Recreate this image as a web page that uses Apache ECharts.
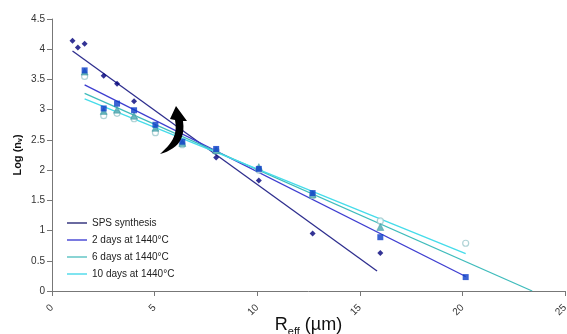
<!DOCTYPE html>
<html><head><meta charset="utf-8">
<script src="https://cdn.jsdelivr.net/npm/echarts@6/dist/echarts.min.js"></script>
<style>html,body{margin:0;padding:0;background:#fff}#c{width:567px;height:334px}</style>
</head><body><div id="c"></div>
<script>
// Reff values (µm)
const xs = [1.0, 1.26, 1.59, 2.52, 3.17, 4.0, 5.04, 6.35, 8.0, 10.08, 12.7, 16.0, 20.16];
// Log(nv) values
const sps   = [4.14, 4.03, 4.09, 3.56, 3.43, 3.14, null, null, 2.21, 1.83, 0.95, 0.63, null];
const d2    = [null, null, 3.65, 3.02, 3.10, 2.99, 2.75, 2.47, 2.35, 2.02, 1.62, 0.89, 0.23];
const d6    = [null, null, 3.63, 2.98, 3.00, 2.90, 2.70, 2.45, 2.33, 2.05, 1.60, 1.06, null];
const d10   = [null, null, 3.55, 2.90, 2.94, 2.85, 2.62, 2.42, 2.32, 2.00, 1.58, 1.16, 0.79];
// trend line end points [x, y]
const spsTrendX = [1.0, 15.84],  spsTrendY = [3.97, 0.33];
const d2TrendX  = [1.59, 20.16], d2TrendY  = [3.41, 0.24];
const d6TrendX  = [1.59, 23.4],  d6TrendY  = [3.27, 0.0];
const d10TrendX = [1.59, 20.16], d10TrendY = [3.18, 0.62];
const names = ['SPS synthesis', '2 days at 1440°C', '6 days at 1440°C', '10 days at 1440°C'];

function pts(v){ const o=[]; v.forEach((y,i)=>{ if(y!==null) o.push([xs[i],y]); }); return o; }
function line(X,Y){ return X.map((x,i)=>[x,Y[i]]); }

const lineCols = ['#2e2e8e', '#3d3dd0', '#3fbcbc', '#45dcea'];
const legendCols = ['#6a6aa0', '#7a7ae0', '#8ad4d4', '#7fe4f0'];
const markCols = ['#00007a', '#0a3cc8', '#4aa8b0', '#9cc8cc'];

// curved arrow annotation outline (cubic bezier sampled into polygon)
function bez(p0,p1,p2,p3,n){ const o=[]; for(let i=0;i<=n;i++){const t=i/n,u=1-t;
  o.push([u*u*u*p0[0]+3*u*u*t*p1[0]+3*u*t*t*p2[0]+t*t*t*p3[0], u*u*u*p0[1]+3*u*u*t*p1[1]+3*u*t*t*p2[1]+t*t*t*p3[1]]);} return o; }
const arrowPts = [].concat(
  bez([160,154],[174,150],[186,142],[183,121],12),
  [[187,121],[176,106],[170,119],[175,120]],
  bez([175,120],[178,136],[171,144],[160,154],12)
);

const chart = echarts.init(document.getElementById('c'));
const F = 'Liberation Sans, Arial, sans-serif';
chart.setOption({
  animation:false,
  grid:{left:52,right:2,top:19,bottom:43,containLabel:false,outerBoundsMode:'none'},
  legend:{
    orient:'vertical', left:62, top:213, itemGap:7, itemWidth:20, itemHeight:2, icon:'rect',
    data:names.map((n,i)=>({name:n,itemStyle:{color:legendCols[i]}})),
    textStyle:{fontSize:10,fontFamily:F,color:'#222'}, selectedMode:false
  },
  xAxis:{
    type:'value', min:0, max:25, interval:5,
    axisLine:{lineStyle:{color:'#777',width:1}},
    axisTick:{show:true,length:5,lineStyle:{color:'#777'}},
    splitLine:{show:false},
    axisLabel:{rotate:45,fontSize:10,fontFamily:F,color:'#333',margin:15},
    name:'{r|R}{s|eff}{r| (µm)}', nameLocation:'middle', nameGap:23, nameMoveOverlap:false,
    nameTextStyle:{rich:{r:{fontSize:18,fontFamily:F,color:'#111'},s:{fontSize:11,fontFamily:F,color:'#111',padding:[12,0,0,0]}}}
  },
  yAxis:{
    type:'value', min:0, max:4.5, interval:0.5,
    axisLine:{show:true,lineStyle:{color:'#777',width:1}},
    axisTick:{show:true,length:5,lineStyle:{color:'#777'}},
    splitLine:{show:false},
    axisLabel:{fontSize:10,fontFamily:F,color:'#333',margin:7},
    name:'{r|Log (n}{s|v}{r|)}', nameLocation:'middle', nameGap:28, nameRotate:90, nameMoveOverlap:false,
    nameTextStyle:{rich:{r:{fontSize:11,fontWeight:'bold',fontFamily:F,color:'#111'},s:{fontSize:7,fontWeight:'bold',fontFamily:F,color:'#111',padding:[5,0,0,0]}}}
  },
  series:[
    {name:names[0],type:'line',data:line(spsTrendX,spsTrendY),symbol:'none',lineStyle:{color:lineCols[0],width:1.3},itemStyle:{color:lineCols[0]},z:2},
    {name:names[1],type:'line',data:line(d2TrendX,d2TrendY),symbol:'none',lineStyle:{color:lineCols[1],width:1.3},itemStyle:{color:lineCols[1]},z:2},
    {name:names[2],type:'line',data:line(d6TrendX,d6TrendY),symbol:'none',lineStyle:{color:lineCols[2],width:1.3},itemStyle:{color:lineCols[2]},z:2},
    {name:names[3],type:'line',data:line(d10TrendX,d10TrendY),symbol:'none',lineStyle:{color:lineCols[3],width:1.3},itemStyle:{color:lineCols[3]},z:2},
    {type:'scatter',data:pts(d10),symbol:'circle',symbolSize:6,itemStyle:{color:'#fff',borderColor:markCols[3],borderWidth:1.2},z:3},
    {type:'scatter',data:pts(d6),symbol:'triangle',symbolSize:7,itemStyle:{color:markCols[2],borderColor:'#2a8a94',borderWidth:0.5},z:4},
    {type:'scatter',data:pts(d2),symbol:'rect',symbolSize:6,itemStyle:{color:markCols[1]},z:5},
    {type:'scatter',data:pts(sps),symbol:'diamond',symbolSize:6,itemStyle:{color:markCols[0]},z:6}
  ],
  graphic:[{
    type:'polygon', z:100,
    shape:{points:arrowPts},
    style:{fill:'#000'}
  }]
});
</script></body></html>
